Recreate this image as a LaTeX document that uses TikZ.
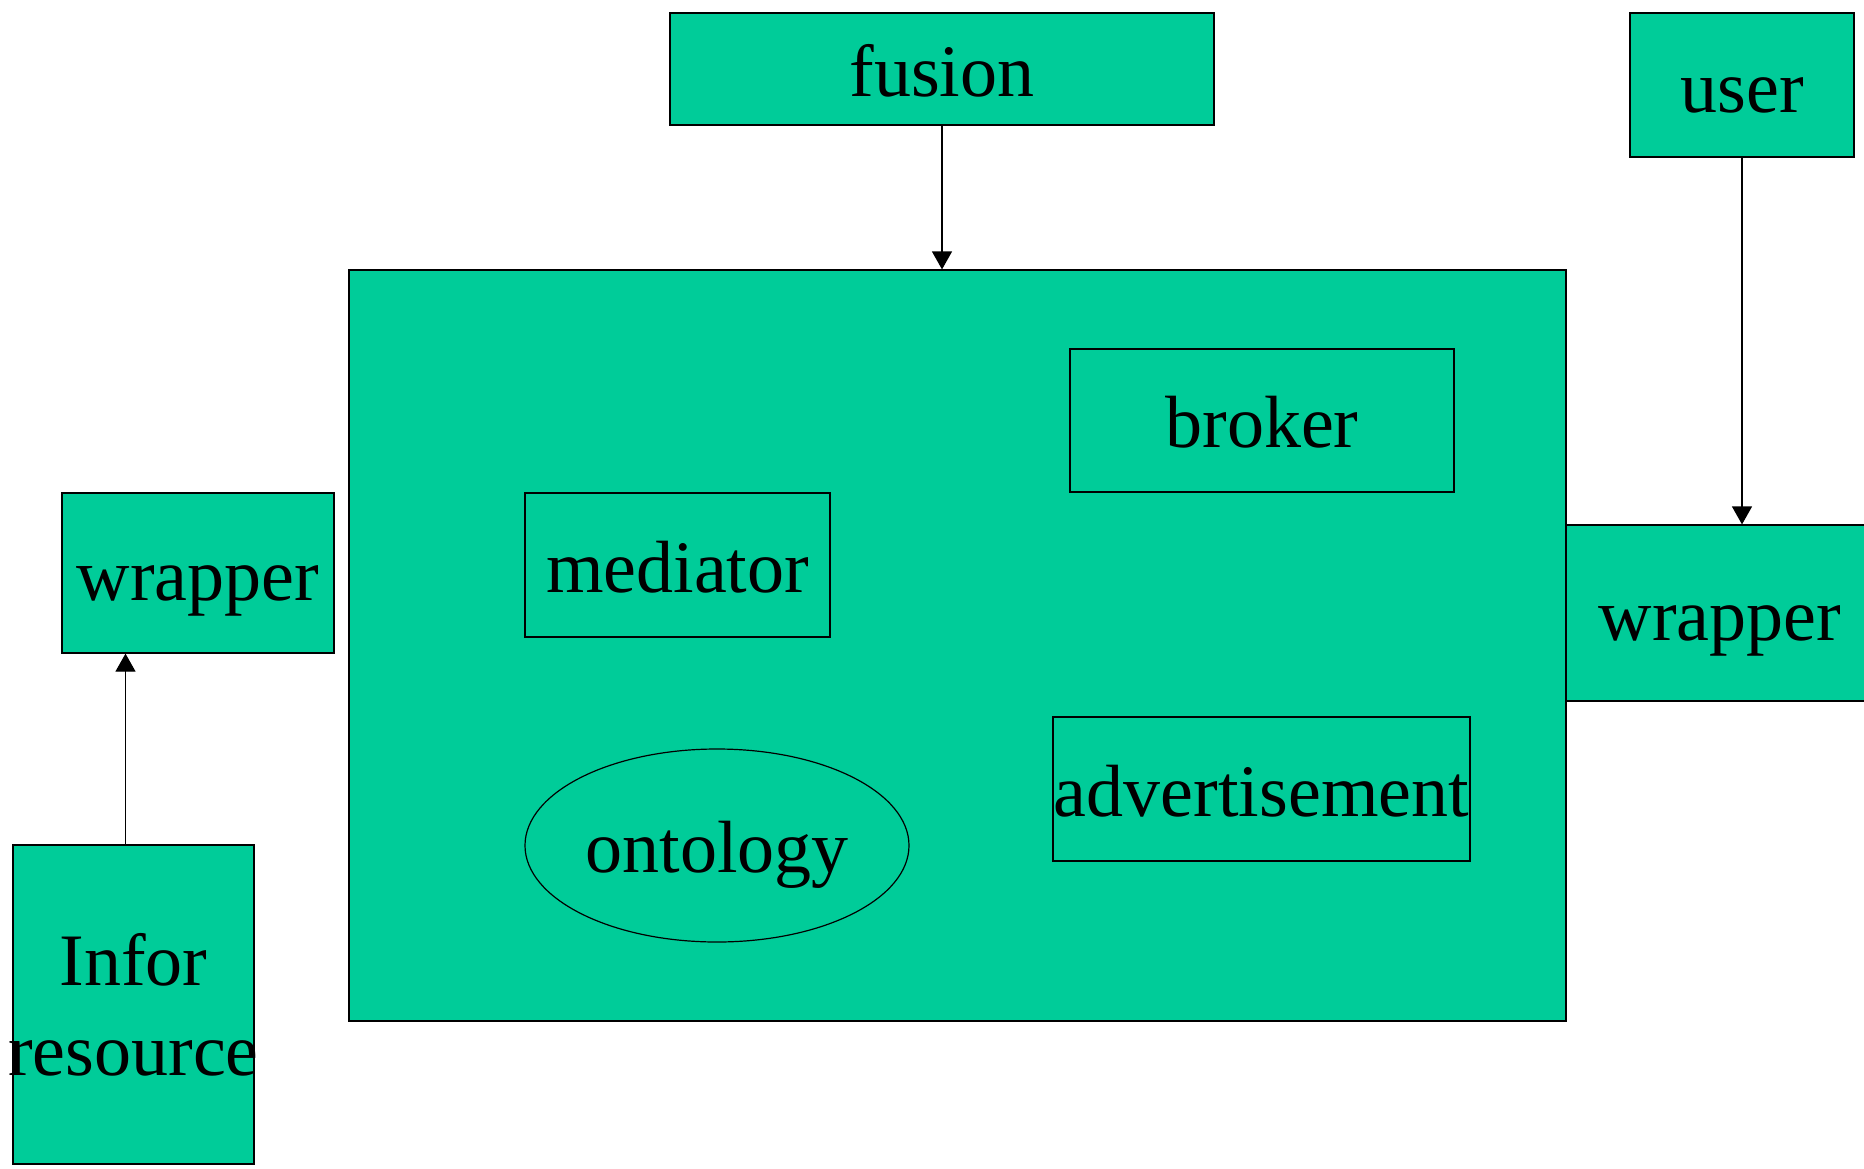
\documentclass[tikz,border=0pt]{standalone}
\definecolor{boxGreen}{RGB}{0, 204, 153}
\usepackage{fontspec}
\setmainfont{Liberation Serif}
\usepackage{tikz}
\usetikzlibrary{shapes,arrows,positioning,calc,arrows.meta}

\begin{document}
\begin{tikzpicture}[x=1pt,y=-1pt,
    blk/.style={draw,fill=boxGreen,line width=1.2pt,inner sep=0pt,font=\fontsize{74}{90}\selectfont},
    oneline/.style={text height=54pt,text depth=0pt},
    flow/.style={-{Triangle[width=20pt,length=18pt]},line width=1.2pt}]
                \useasboundingbox (0,0) rectangle (1864,1168);
                % top boxes
                \node[blk,oneline,minimum width=544pt,minimum height=112pt] (fusion) at (942,69) {fusion};
                \node[blk,oneline,minimum width=224pt,minimum height=144pt] (user) at (1742,85) {user};
                % agent platform with its parts
                \node[blk,minimum width=1217pt,minimum height=751pt] (core) at (957.5,645.5) {};
                \node[blk,oneline,minimum width=384pt,minimum height=143pt] (broker) at (1262,420.5) {broker};
                \node[blk,oneline,minimum width=305pt,minimum height=144pt] (mediator) at (677.5,565) {mediator};
                \node[blk,oneline,minimum width=417pt,minimum height=144pt] (advert) at (1261.5,789) {advertisement};
                \node[blk,oneline,ellipse,minimum width=384pt,minimum height=193pt] (ontology) at (717,845.5) {ontology};
                % wrappers and resource
                \node[blk,oneline,minimum width=272pt,minimum height=160pt] (lwrap) at (198,573) {wrapper};
                \node[blk,oneline,minimum width=308pt,minimum height=176pt] (rwrap) at (1720,613) {wrapper};
                \node[blk,align=center,text width=241pt,minimum height=319pt] (infor) at (133.5,1004.5) {Infor\\\makebox[241pt]{resource}};
                % connectors
                \draw[flow] (fusion.south) -- (fusion.south |- core.north);
                \draw[flow] (user.south) -- (user.south |- rwrap.north);
                \draw[flow] ([xshift=-8pt]infor.north) -- ([xshift=-8pt]infor.north |- lwrap.south);
\end{tikzpicture}
\end{document}
